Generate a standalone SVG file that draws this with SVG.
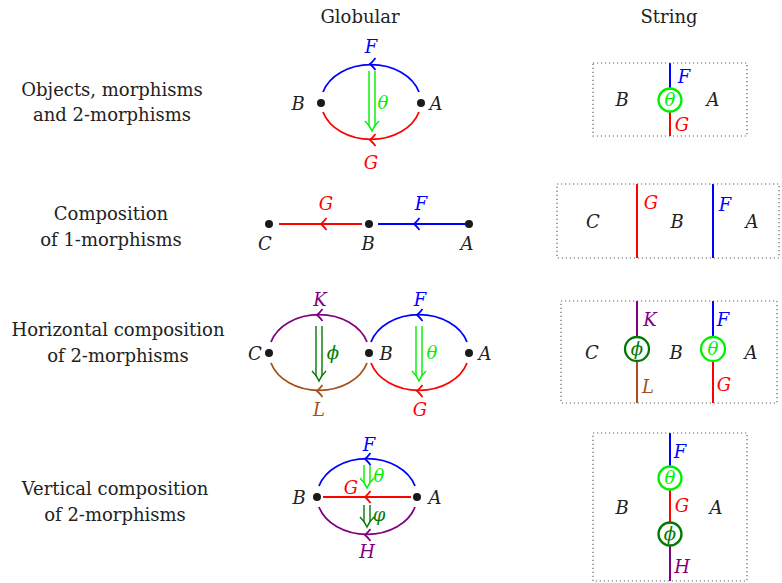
<svg xmlns="http://www.w3.org/2000/svg" xmlns:xlink="http://www.w3.org/1999/xlink" width="782" height="583" viewBox="0 0 782 583" font-family="'DejaVu Serif', 'Liberation Serif', serif">
<style>
  text { font-family: "DejaVu Serif", "Liberation Serif", serif; fill: #222; }
  .lbl { font-size: 18px; text-anchor: middle; }
  .m { font-size: 18px; font-style: italic; text-anchor: middle; }
  .arc { fill: none; stroke-width: 1.8; }
  .dbl { fill: none; stroke-width: 1.4; }
  .box { fill: none; stroke: #666; stroke-width: 1.2; stroke-dasharray: 1.2 2.8; }
  .wire { stroke-width: 2; fill: none; }
  .circ { fill: #fff; stroke-width: 2.3; }
  .dot { fill: #1a1a1a; }
  .blue { stroke: #0000ff; } .red { stroke: #ff0000; } .lg { stroke: #00f000; } .dg { stroke: #007a00; }
  .pur { stroke: #800080; } .brn { stroke: #a5501a; }
  .tb { fill: #0000ff; } .tr { fill: #ff0000; } .tlg { fill: #00f000; } .tdg { fill: #007a00; } .tp { fill: #800080; } .tbr { fill: #a5501a; }
</style>
<defs>
  <path id="tip" d="M5.5,-6 Q2,-1.5 0,0 Q2,1.5 5.5,6" fill="none" stroke-width="1.8"/>
</defs>

<text class="lbl" x="360" y="23">Globular</text>
<text class="lbl" x="669" y="23">String</text>

<g id="row-labels">
  <text class="lbl" x="112" y="96">Objects, morphisms</text>
  <text class="lbl" x="112" y="121">and 2-morphisms</text>
  <text class="lbl" x="111" y="220">Composition</text>
  <text class="lbl" x="111" y="246">of 1-morphisms</text>
  <text class="lbl" x="118" y="336">Horizontal composition</text>
  <text class="lbl" x="118" y="362">of 2-morphisms</text>
  <text class="lbl" x="115" y="495">Vertical composition</text>
  <text class="lbl" x="115" y="521">of 2-morphisms</text>
</g>

<!-- Connectors -->
<g id="connectors">
  <!-- row 1 globular -->
  <path class="arc blue" d="M323,92 A50,38 0 0 1 419,92"/>
  <path class="arc red" d="M323,112 A50,38 0 0 0 419,112"/>
  <use xlink:href="#tip" x="370" y="64" class="blue"/>
  <use xlink:href="#tip" x="370" y="140" class="red"/>
  <g class="dbl lg">
    <path d="M369,71 V126 M375,71 V126"/>
    <path d="M365,121 Q370,126 372,131 Q374,126 379,121"/>
  </g>
  <!-- row 2 globular -->
  <path class="arc red" d="M279,224 H362"/>
  <path class="arc blue" d="M378,224 H468"/>
  <use xlink:href="#tip" x="321" y="224" class="red"/>
  <use xlink:href="#tip" x="414" y="224" class="blue"/>
  <!-- row 3 globular -->
  <path class="arc pur" d="M271,342 A50,38 0 0 1 367,342"/>
  <path class="arc brn" d="M271,363 A50,38 0 0 0 367,363"/>
  <path class="arc blue" d="M371,342 A50,38 0 0 1 467,342"/>
  <path class="arc red" d="M371,363 A50,38 0 0 0 467,363"/>
  <use xlink:href="#tip" x="317" y="315" class="pur"/>
  <use xlink:href="#tip" x="317" y="391" class="brn"/>
  <use xlink:href="#tip" x="417" y="315" class="blue"/>
  <use xlink:href="#tip" x="417" y="391" class="red"/>
  <g class="dbl dg">
    <path d="M316,326 V376 M322,326 V376"/>
    <path d="M312,371 Q317,376 319,381 Q321,376 326,371"/>
  </g>
  <g class="dbl lg">
    <path d="M416,326 V376 M422,326 V376"/>
    <path d="M412,371 Q417,376 419,381 Q421,376 426,371"/>
  </g>
  <!-- row 4 globular -->
  <path class="arc blue" d="M319,486 A50,38 0 0 1 415,486"/>
  <path class="arc pur" d="M319,507 A50,38 0 0 0 415,507"/>
  <path class="arc red" d="M323,497 H411"/>
  <use xlink:href="#tip" x="365" y="459" class="blue"/>
  <use xlink:href="#tip" x="365" y="497" class="red"/>
  <use xlink:href="#tip" x="365" y="535" class="pur"/>
  <g class="dbl lg">
    <path d="M364,465 V483 M370,465 V483"/>
    <path d="M360,478 Q365,483 367,488 Q369,483 374,478"/>
  </g>
  <g class="dbl dg">
    <path d="M364,505 V522 M370,505 V522"/>
    <path d="M360,517 Q365,522 367,527 Q369,522 374,517"/>
  </g>
  <!-- string diagrams wires -->
  <path class="wire blue" d="M670,63 V100"/>
  <path class="wire red" d="M670,100 V136"/>
  <path class="wire red" d="M637,184 V258"/>
  <path class="wire blue" d="M713,184 V258"/>
  <path class="wire pur" d="M637,301 V349"/>
  <path class="wire brn" d="M637,349 V403"/>
  <path class="wire blue" d="M713,301 V349"/>
  <path class="wire red" d="M713,349 V403"/>
  <path class="wire blue" d="M670,433 V478"/>
  <path class="wire red" d="M670,478 V534"/>
  <path class="wire pur" d="M670,534 V581"/>
</g>

<!-- Row 1 globular nodes and labels -->
<g id="g1-B"><circle class="dot" cx="321" cy="103" r="4"/><text class="m" x="298" y="110">B</text></g>
<g id="g1-A"><circle class="dot" cx="421" cy="103" r="4"/><text class="m" x="436" y="110">A</text></g>
<g id="g1-labels">
  <text class="m tb" x="371" y="53">F</text>
  <text class="m tr" x="371" y="169">G</text>
  <text class="m tlg" x="383" y="109">θ</text>
</g>

<!-- Row 2 globular -->
<g id="g2-C"><circle class="dot" cx="269" cy="224" r="4"/><text class="m" x="265" y="250">C</text></g>
<g id="g2-B"><circle class="dot" cx="369" cy="224" r="4"/><text class="m" x="368" y="250">B</text></g>
<g id="g2-A"><circle class="dot" cx="469" cy="224" r="4"/><text class="m" x="467" y="250">A</text></g>
<g id="g2-labels">
  <text class="m tr" x="326" y="210">G</text>
  <text class="m tb" x="421" y="210">F</text>
</g>

<!-- Row 3 globular -->
<g id="g3-C"><circle class="dot" cx="269" cy="353" r="4"/><text class="m" x="255" y="360">C</text></g>
<g id="g3-B"><circle class="dot" cx="369" cy="353" r="4"/><text class="m" x="386" y="360">B</text></g>
<g id="g3-A"><circle class="dot" cx="469" cy="353" r="4"/><text class="m" x="485" y="360">A</text></g>
<g id="g3-labels">
  <text class="m tp" x="320" y="306">K</text>
  <text class="m tbr" x="319" y="416">L</text>
  <text class="m tb" x="420" y="306">F</text>
  <text class="m tr" x="420" y="416">G</text>
  <text class="m tdg" x="333" y="359">ϕ</text>
  <text class="m tlg" x="432" y="359">θ</text>
</g>

<!-- Row 4 globular -->
<g id="g4-B"><circle class="dot" cx="317" cy="497" r="4"/><text class="m" x="299" y="504">B</text></g>
<g id="g4-A"><circle class="dot" cx="417" cy="497" r="4"/><text class="m" x="435" y="504">A</text></g>
<g id="g4-labels">
  <text class="m tb" x="369" y="451">F</text>
  <text class="m tr" x="351" y="494">G</text>
  <text class="m tlg" x="379" y="482">θ</text>
  <text class="m tdg" x="379" y="521">φ</text>
  <text class="m tp" x="367" y="558">H</text>
</g>

<!-- String row 1 -->
<g id="s1">
  <rect class="box" x="593" y="63" width="154" height="73"/>
  <circle class="circ lg" cx="670" cy="100" r="11.5"/>
  <text class="m tlg" x="670" y="106">θ</text>
  <text class="m tb" x="684" y="83">F</text>
  <text class="m tr" x="682" y="131">G</text>
  <text class="m" x="622" y="106">B</text>
  <text class="m" x="713" y="106">A</text>
</g>

<!-- String row 2 -->
<g id="s2">
  <rect class="box" x="557" y="184" width="222" height="74"/>
  <text class="m tr" x="651" y="209">G</text>
  <text class="m tb" x="725" y="211">F</text>
  <text class="m" x="593" y="228">C</text>
  <text class="m" x="677" y="228">B</text>
  <text class="m" x="752" y="228">A</text>
</g>

<!-- String row 3 -->
<g id="s3">
  <rect class="box" x="561" y="301" width="216" height="102"/>
  <circle class="circ dg" cx="637" cy="349" r="12"/>
  <text class="m tdg" x="637" y="355">ϕ</text>
  <circle class="circ lg" cx="713" cy="349" r="12"/>
  <text class="m tlg" x="713" y="355">θ</text>
  <text class="m tp" x="650" y="326">K</text>
  <text class="m tbr" x="648" y="393">L</text>
  <text class="m tb" x="723" y="326">F</text>
  <text class="m tr" x="724" y="391">G</text>
  <text class="m" x="592" y="359">C</text>
  <text class="m" x="676" y="359">B</text>
  <text class="m" x="751" y="359">A</text>
</g>

<!-- String row 4 -->
<g id="s4">
  <rect class="box" x="593" y="433" width="154" height="148"/>
  <circle class="circ lg" cx="670" cy="478" r="11.5"/>
  <text class="m tlg" x="670" y="484">θ</text>
  <circle class="circ dg" cx="670" cy="534" r="11.5"/>
  <text class="m tdg" x="670" y="540">ϕ</text>
  <text class="m tb" x="680" y="458">F</text>
  <text class="m tr" x="682" y="512">G</text>
  <text class="m tp" x="682" y="573">H</text>
  <text class="m" x="622" y="514">B</text>
  <text class="m" x="716" y="514">A</text>
</g>
</svg>
